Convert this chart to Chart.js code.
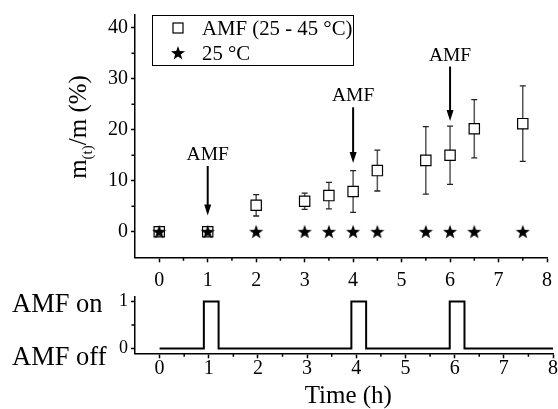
<!DOCTYPE html>
<html>
<head>
<meta charset="utf-8">
<script src="https://cdn.jsdelivr.net/npm/chart.js@4/dist/chart.umd.min.js"></script>
<style>
  html, body { margin: 0; padding: 0; background: #fff; }
  #wrap { position: relative; width: 558px; height: 409px; }
  canvas { position: absolute; left: 0; top: 0; }
</style>
</head>
<body>
<div id="wrap">
  <canvas id="top" width="558" height="409"></canvas>
  <canvas id="bottom" width="558" height="409"></canvas>
</div>
<script>
// ---------- data ----------
const sampleTimes = [0, 1, 2, 3, 3.5, 4, 4.5, 5.5, 6, 6.5, 7.5];
const amfValues   = [0, 0, 5.2, 6.0, 7.1, 7.9, 12.0, 14.0, 15.0, 20.2, 21.2];
const amfErrors   = [0, 0, 2.1, 1.6, 2.6, 4.1, 4.0, 6.6, 5.7, 5.7, 7.4];
const ctrlValues  = [0, 0, 0, 0, 0, 0, 0, 0, 0, 0, 0];

const arrowTimes  = [1, 4, 6];
const arrowFrom   = [12.9, 24.4, 32.4];
const arrowTo     = [3.2, 13.5, 21.7];
const arrowLabel  = 'AMF';

const fieldTimes  = [0, 0.9, 0.9, 1.2, 1.2, 3.9, 3.9, 4.2, 4.2, 5.9, 5.9, 6.2, 6.2, 8];
const fieldState  = [0, 0, 1, 1, 0, 0, 1, 1, 0, 0, 1, 1, 0, 0];

const xTicks       = [0, 1, 2, 3, 4, 5, 6, 7, 8];
const xMinorTicks  = [0.5, 1.5, 2.5, 3.5, 4.5, 5.5, 6.5, 7.5];
const topYTicks    = [0, 10, 20, 30, 40];
const topYMinor    = [5, 15, 25, 35];
const botYTicks    = [0, 1];
const botYMinor    = [0.5];
const botYNames    = ['AMF off', 'AMF on'];

const legendLabels = ['AMF (25 - 45 °C)', '25 °C'];
const yTitleParts  = ['m', '(t)', '/m (%)'];
const xTitle       = 'Time (h)';

// ---------- styles ----------
const SERIF = '"Liberation Serif", "Times New Roman", serif';

function makeStar(size, outer, inner) {
  const c = document.createElement('canvas');
  c.width = size; c.height = size;
  const g = c.getContext('2d');
  g.fillStyle = '#000';
  g.beginPath();
  for (let i = 0; i < 10; i++) {
    const r = i % 2 === 0 ? outer : inner;
    const a = -Math.PI / 2 + i * Math.PI / 5;
    const px = size / 2 + r * Math.cos(a), py = size / 2 + r * Math.sin(a) + 0.5;
    if (i === 0) g.moveTo(px, py); else g.lineTo(px, py);
  }
  g.closePath();
  g.fill();
  return c;
}
const starImg = makeStar(16, 7.4, 3.0);

function minorTicksPlugin(id, axes) {
  return {
    id,
    afterDraw(chart) {
      const ctx = chart.ctx;
      ctx.save();
      ctx.strokeStyle = '#000';
      ctx.lineWidth = 1.5;
      axes.forEach(({ axis, values }) => {
        const s = chart.scales[axis];
        values.forEach(v => {
          const p = s.getPixelForValue(v);
          ctx.beginPath();
          if (axis === 'x') { ctx.moveTo(p, s.top); ctx.lineTo(p, s.top + 3.5); }
          else { ctx.moveTo(s.right, p); ctx.lineTo(s.right - 3.5, p); }
          ctx.stroke();
        });
      });
      ctx.restore();
    }
  };
}

const errorBarPlugin = {
  id: 'errbars',
  beforeDatasetsDraw(chart) {
    const ctx = chart.ctx, xs = chart.scales.x, ys = chart.scales.y;
    ctx.save();
    sampleTimes.forEach((t, i) => {
      const e = amfErrors[i];
      if (!e) return;
      const px = xs.getPixelForValue(t);
      const y1 = ys.getPixelForValue(amfValues[i] + e);
      const y2 = ys.getPixelForValue(amfValues[i] - e);
      ctx.strokeStyle = '#555';
      ctx.lineWidth = 1.5;
      ctx.beginPath(); ctx.moveTo(px, y1); ctx.lineTo(px, y2); ctx.stroke();
      ctx.strokeStyle = '#222';
      ctx.lineWidth = 1.3;
      ctx.beginPath();
      ctx.moveTo(px - 3, y1); ctx.lineTo(px + 3, y1);
      ctx.moveTo(px - 3, y2); ctx.lineTo(px + 3, y2);
      ctx.stroke();
    });
    ctx.restore();
  }
};

const annotPlugin = {
  id: 'annot',
  afterDatasetsDraw(chart) {
    const ctx = chart.ctx, xs = chart.scales.x, ys = chart.scales.y;
    ctx.save();
    // arrows
    arrowTimes.forEach((t, i) => {
      const px = xs.getPixelForValue(t);
      const yA = ys.getPixelForValue(arrowFrom[i]);
      const yB = ys.getPixelForValue(arrowTo[i]);
      ctx.strokeStyle = '#000';
      ctx.fillStyle = '#000';
      ctx.lineWidth = 2;
      ctx.beginPath(); ctx.moveTo(px, yA); ctx.lineTo(px, yB - 8); ctx.stroke();
      ctx.beginPath();
      ctx.moveTo(px, yB); ctx.lineTo(px - 3.5, yB - 11); ctx.lineTo(px + 3.5, yB - 11);
      ctx.closePath(); ctx.fill();
      ctx.font = '19.5px ' + SERIF;
      ctx.textAlign = 'center';
      ctx.textBaseline = 'alphabetic';
      ctx.fillText(arrowLabel, px, yA - 6);
    });
    // legend
    ctx.lineWidth = 1;
    ctx.strokeStyle = '#000';
    ctx.strokeRect(152.5, 15.5, 201, 50);
    ctx.fillStyle = '#fff';
    ctx.lineWidth = 1.2;
    ctx.strokeRect(173, 23, 10, 10);
    ctx.drawImage(starImg, 170, 45);
    ctx.fillStyle = '#000';
    ctx.font = '20.8px ' + SERIF;
    ctx.textAlign = 'left';
    ctx.textBaseline = 'alphabetic';
    ctx.fillText(legendLabels[0], 202, 35);
    ctx.fillText(legendLabels[1], 202, 60);
    // y title
    ctx.save();
    const big = '25px ' + SERIF, small = '15px ' + SERIF;
    ctx.font = big; const w0 = ctx.measureText(yTitleParts[0]).width;
    const w2 = ctx.measureText(yTitleParts[2]).width;
    ctx.font = small; const w1 = ctx.measureText(yTitleParts[1]).width;
    const total = w0 + w1 + w2;
    ctx.translate(86, 127 + total / 2);
    ctx.rotate(-Math.PI / 2);
    ctx.font = big; ctx.fillText(yTitleParts[0], 0, 0);
    ctx.font = small; ctx.fillText(yTitleParts[1], w0, 6);
    ctx.font = big; ctx.fillText(yTitleParts[2], w0 + w1, 0);
    ctx.restore();
    ctx.restore();
  }
};

const botLabelPlugin = {
  id: 'botlabels',
  afterDraw(chart) {
    const ctx = chart.ctx, ys = chart.scales.y, xs = chart.scales.x;
    ctx.save();
    ctx.fillStyle = '#000';
    ctx.font = '26.5px ' + SERIF;
    ctx.textAlign = 'left';
    ctx.textBaseline = 'alphabetic';
    ctx.fillText(botYNames[1], 12, ys.getPixelForValue(1) + 11);
    ctx.fillText(botYNames[0], 12, ys.getPixelForValue(0) + 16);
    ctx.font = '25px ' + SERIF;
    ctx.textAlign = 'center';
    ctx.fillText(xTitle, (xs.getPixelForValue(3) + xs.getPixelForValue(5)) / 2 - 8, 403);
    ctx.restore();
  }
};

function axisCommon(tickSize, padding) {
  return {
    border: { display: true, color: '#000', width: 1.5 },
    grid: { display: true, drawOnChartArea: false, drawTicks: true, tickLength: 5, tickColor: '#000', tickWidth: 1.5 },
    ticks: { color: '#000', font: { family: SERIF, size: tickSize }, padding: padding, autoSkip: false, maxRotation: 0 }
  };
}

// ---------- top chart ----------
const topX = axisCommon(20, 6);
topX.type = 'linear'; topX.min = -0.5; topX.max = 8;
topX.afterBuildTicks = s => { s.ticks = xTicks.map(v => ({ value: v })); };
topX.afterFit = s => { s.height = 409 - 257.3; };
topX.ticks.callback = v => String(v);

const topY = axisCommon(20, 3);
topY.grid.tickLength = 4;
topY.min = -5; topY.max = 42.5;
topY.afterBuildTicks = s => { s.ticks = topYTicks.map(v => ({ value: v })); };
topY.afterFit = s => { s.width = 135; };
topY.ticks.callback = v => String(v);

new Chart(document.getElementById('top'), {
  type: 'scatter',
  data: {
    datasets: [
      {
        label: legendLabels[0],
        data: sampleTimes.map((t, i) => ({ x: t, y: amfValues[i] })),
        pointStyle: 'rect', pointRadius: 7.3, borderColor: '#000', backgroundColor: '#fff',
        borderWidth: 1.2, order: 2
      },
      {
        label: legendLabels[1],
        data: sampleTimes.map((t, i) => ({ x: t, y: ctrlValues[i] })),
        pointStyle: starImg, pointRadius: 8, order: 1
      }
    ]
  },
  options: {
    responsive: false, animation: false, devicePixelRatio: 1,
    layout: { padding: { top: 15, right: 5, left: 0, bottom: 0 } },
    plugins: { legend: { display: false }, tooltip: { enabled: false } },
    scales: { x: topX, y: topY }
  },
  plugins: [errorBarPlugin, annotPlugin,
    minorTicksPlugin('minorTop', [{ axis: 'x', values: xMinorTicks }, { axis: 'y', values: topYMinor }])]
});

// ---------- bottom chart ----------
const botX = axisCommon(20, -2);
botX.type = 'linear'; botX.min = -0.5; botX.max = 8;
botX.afterBuildTicks = s => { s.ticks = xTicks.map(v => ({ value: v })); };
botX.afterFit = s => { s.height = 409 - 353.3; };
botX.ticks.callback = v => String(v);

const botY = axisCommon(18, 3);
botY.grid.tickLength = 4;
botY.min = -0.1; botY.max = 1.1;
botY.afterBuildTicks = s => { s.ticks = botYTicks.map(v => ({ value: v })); };
botY.afterFit = s => { s.width = 135; };
botY.ticks.callback = v => String(v);

new Chart(document.getElementById('bottom'), {
  type: 'line',
  data: {
    datasets: [{
      data: fieldTimes.map((t, i) => ({ x: t, y: fieldState[i] })),
      borderColor: '#000', borderWidth: 2, pointRadius: 0, fill: false, tension: 0
    }]
  },
  options: {
    responsive: false, animation: false, devicePixelRatio: 1,
    layout: { padding: { top: 296.7, right: 5, left: 0, bottom: 0 } },
    plugins: { legend: { display: false }, tooltip: { enabled: false } },
    scales: { x: botX, y: botY }
  },
  plugins: [botLabelPlugin,
    minorTicksPlugin('minorBot', [{ axis: 'x', values: xMinorTicks }, { axis: 'y', values: botYMinor }])]
});
</script>
</body>
</html>
